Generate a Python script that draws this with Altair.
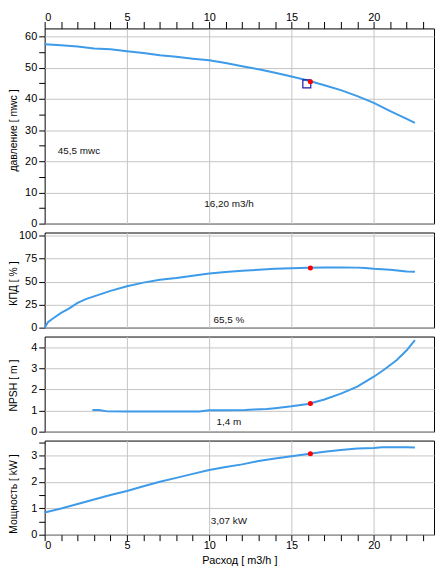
import altair as alt
import pandas as pd

# ---- data ----
q_head = [0, 1, 2, 3, 4, 5, 6, 7, 8, 9, 10, 11, 12, 13, 14, 15, 16, 17, 18, 19, 20, 21, 22, 22.5]
head = [57.5, 57.2, 56.8, 56.2, 55.9, 55.3, 54.7, 54.0, 53.5, 52.9, 52.4, 51.5, 50.5, 49.5,
        48.4, 47.2, 45.9, 44.4, 42.8, 40.9, 38.7, 36.1, 33.6, 32.3]

q_eff = [0, 0.2, 0.5, 1, 1.5, 2, 2.5, 3, 4, 5, 6, 7, 8, 9, 10, 11, 12, 13, 14, 15, 16, 17,
         18, 19, 19.5, 20, 21, 22, 22.5]
eff = [0, 6, 10, 16, 21, 27, 31, 34, 40, 45, 49, 52, 54, 56.5, 59, 60.5, 62, 63, 64, 64.6,
       65.2, 65.4, 65.4, 65.3, 65, 64, 63, 61, 60.7]

q_npsh = [2.9, 3.3, 3.8, 5, 7, 9.4, 10, 11, 12.2, 12.7, 13.5, 14, 15, 16, 17, 18, 19, 20,
          20.6, 21.4, 22, 22.5]
npsh = [1.02, 1.02, 0.96, 0.95, 0.95, 0.95, 1.01, 1.01, 1.02, 1.05, 1.07, 1.11, 1.2, 1.31,
        1.52, 1.8, 2.13, 2.6, 2.92, 3.39, 3.85, 4.33]

q_pow = [0, 1, 2, 3, 4, 5, 6, 7, 8, 9, 10, 11, 12, 13, 14, 15, 16, 17, 18, 19, 20, 20.5,
         21, 22, 22.5]
power = [0.84, 0.99, 1.16, 1.33, 1.5, 1.65, 1.83, 2.0, 2.15, 2.3, 2.45, 2.56, 2.66, 2.79,
         2.88, 2.97, 3.05, 3.14, 3.2, 3.26, 3.28, 3.31, 3.31, 3.31, 3.3]

op_q = 16.15
op_vals = [45.5, 65.0, 1.33, 3.06]
square_pt = [15.93, 44.8]

notes = ["45,5 mwc", "16,20 m3/h", "65,5 %", "1,4 m", "3,07 kW"]
note_q = [0.8, 11.2, 11.2, 11.2, 11.2]
note_v = [23.3, 6.3, 7.9, 0.47, 0.53]

y_titles = ["давление [ mwc ]", "КПД [ % ]", "NPSH [ m ]", "Мощность [ kW ]"]
x_title = "Расход [ m3/h ]"

FONT = "Liberation Sans"
LINE = "#3d9be9"
W = 393
XMAX = 23.66


def xaxis(kind):
    if kind == "mid":
        return alt.Axis(values=[5, 10, 15, 20], labels=False, ticks=False, domain=False,
                        title=None, grid=True)
    return alt.Axis(
        orient=kind, values=list(range(0, 24)),
        labelExpr="datum.value % 5 === 0 ? format(datum.value, 'd') : ''",
        gridOpacity={"condition": {"test": "datum.value % 5 === 0 && datum.value > 0",
                                   "value": 1}, "value": 0},
        tickSize=7 if kind == "top" else 6, labelPadding=-1, domain=False,
        title=x_title if kind == "bottom" else None,
        titlePadding=4, titleFontSize=11, titleFontWeight="normal",
    )


def panel(xs, ys, ymax, yticks, major, ytitle, h, ty_off, op, note_idx, xkind, square=False):
    df = pd.DataFrame({"q": xs, "v": ys})
    xenc = alt.X("q:Q", scale=alt.Scale(domain=[0, XMAX], nice=False, zero=False),
                 axis=xaxis(xkind))
    yenc = alt.Y("v:Q", scale=alt.Scale(domain=[0, ymax], nice=False, zero=False),
                 axis=alt.Axis(values=yticks,
                               labelExpr=f"({major}) ? format(datum.value, 'd') : ''",
                               gridOpacity={"condition": {"test": major, "value": 1},
                                            "value": 0},
                               tickSize=6, labelPadding=2, domain=False,
                               title=ytitle, titleX=-26, titleY=h / 2 + ty_off,
                               titleAngle=270, titleBaseline="bottom", titleAlign="center",
                               titleFontWeight="normal", titleFontSize=10.5))
    line = alt.Chart(df).mark_line(color=LINE, strokeWidth=2).encode(x=xenc, y=yenc)
    layers = [line]
    if square:
        sq = alt.Chart(pd.DataFrame({"q": [square_pt[0]], "v": [square_pt[1]]})).mark_square(
            filled=False, color="#1a1aa6", strokeWidth=1.2, size=64, opacity=1
        ).encode(x=xenc, y=yenc)
        layers.append(sq)
    dot = alt.Chart(pd.DataFrame({"q": [op_q], "v": [op]})).mark_circle(
        color="#ff0000", size=26, opacity=1).encode(x=xenc, y=yenc)
    layers.append(dot)
    for i in note_idx:
        t = alt.Chart(pd.DataFrame({"q": [note_q[i]], "v": [note_v[i]], "t": [notes[i]]})).mark_text(
            font=FONT, fontSize=10, color="#111", align="left" if i == 0 else "center",
            baseline="middle").encode(x=xenc, y=yenc, text="t:N")
        layers.append(t)
    return alt.layer(*layers).properties(width=W, height=h)


p1 = panel(q_head, head, 62.6, list(range(0, 61, 5)), "datum.value % 10 === 0",
           y_titles[0], 197, 4, op_vals[0], [0, 1], "top", square=True)
p2 = panel(q_eff, eff, 103.5, [0, 25, 50, 75, 100], "true",
           y_titles[1], 96, 3, op_vals[1], [2], "mid")
p3 = panel(q_npsh, npsh, 4.5, [0, 1, 2, 3, 4], "true",
           y_titles[2], 96, 1, op_vals[2], [3], "mid")
p4 = panel(q_pow, power, 3.56, [0, 0.5, 1, 1.5, 2, 2.5, 3, 3.5], "datum.value % 1 === 0",
           y_titles[3], 95, 6, op_vals[3], [4], "bottom")

chart = alt.vconcat(p1, p2, p3, p4, spacing=9, bounds="flush").properties(
    padding={"left": 0, "top": 0, "right": 0, "bottom": 0}
).configure(background="white").configure_view(
    stroke="black", strokeWidth=1
).configure_axis(
    gridColor="#c4c4c4", gridWidth=1, labelFont=FONT, labelFontSize=11, labelColor="#000",
    tickColor="#000", titleFont=FONT, titleFontSize=10, titleFontWeight="normal",
    titleColor="#000"
)

chart.save("out.html", embed_options={"renderer": "svg", "actions": False})
